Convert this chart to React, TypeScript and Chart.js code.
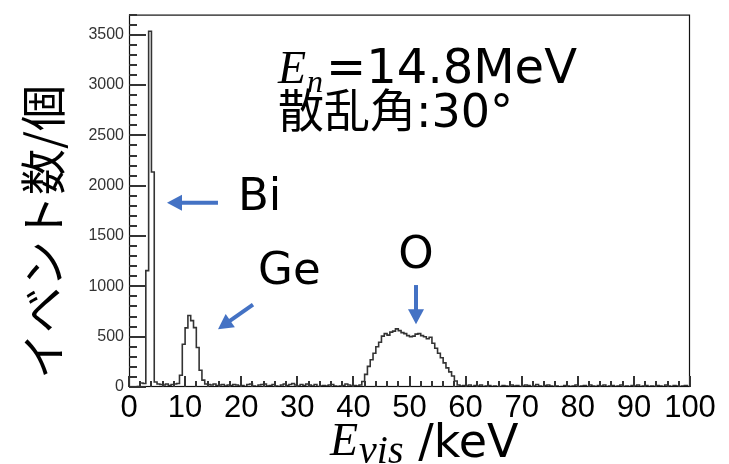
import React, { useEffect, useRef } from "react";
import { Chart, registerables } from "chart.js";

Chart.register(...registerables);

// ---------- data ----------
const BIN_WIDTH = 0.5; // keV per bin, 200 bins over 0–100 keV

// bins 0–39 (0–20 keV): Bi spike and Ge peak
const countsBiGe = [
  0, 0, 0, 5, 40, 35, 1156, 3535, 2136, 50,
  30, 25, 20, 30, 15, 25, 30, 35, 117, 425,
  587, 711, 659, 590, 392, 166, 68, 30, 25, 20,
  30, 15, 20, 25, 10, 20, 15, 25, 20, 10,
];
// bins 40–79 (20–40 keV)
const countsMid = [
  15, 5, 25, 30, 10, 5, 20, 25, 30, 10,
  15, 25, 10, 5, 20, 30, 15, 25, 35, 20,
  10, 25, 15, 30, 20, 10, 25, 5, 10, 15,
  10, 20, 25, 10, 5, 10, 15, 30, 20, 10,
];
// bins 80–119 (40–60 keV): O peak
const countsO = [
  15, 10, 20, 55, 125, 205, 270, 335, 400, 445,
  505, 530, 515, 545, 555, 578, 560, 540, 530, 510,
  500, 505, 525, 530, 510, 500, 480, 495, 435, 385,
  335, 290, 240, 190, 150, 110, 60, 20, 10, 15,
];
// bins 120–159 (60–80 keV)
const countsTailA = [
  10, 20, 5, 15, 10, 20, 5, 10, 15, 5,
  10, 0, 5, 15, 10, 5, 20, 10, 15, 5,
  10, 20, 15, 5, 10, 25, 10, 5, 15, 20,
  10, 5, 10, 0, 5, 15, 10, 5, 10, 20,
];
// bins 160–199 (80–100 keV)
const countsTailB = [
  5, 10, 15, 5, 20, 10, 5, 15, 10, 20,
  5, 10, 15, 5, 10, 20, 5, 10, 5, 15,
  10, 20, 5, 10, 15, 5, 10, 5, 15, 10,
  5, 20, 10, 5, 15, 10, 5, 10, 15, 5,
];
const counts = [...countsBiGe, ...countsMid, ...countsO, ...countsTailA, ...countsTailB];

const X_MIN = 0;
const X_MAX = 100;
const Y_MIN = 0;
const Y_MAX = 3700;
const xTickValues = [0, 10, 20, 30, 40, 50, 60, 70, 80, 90, 100];
const yTickValues = [0, 500, 1000, 1500, 2000, 2500, 3000, 3500];
const X_MINOR_STEP = 2;
const Y_MINOR_STEP = 100;

// annotation anchors in data coordinates (keV, counts)
const arrows = [
  { from: [15.86, 1831], to: [6.77, 1831] }, // Bi
  { from: [22.1, 818], to: [15.86, 574] }, // Ge
  { from: [51.16, 1013], to: [51.16, 623] }, // O
];
const peakLabels = [
  { text: "Bi", at: [19.43, 1762], align: "left" },
  { text: "Ge", at: [23.0, 1022], align: "left" },
  { text: "O", at: [51.16, 1178], align: "center" },
];
const infoAnchor1 = [26.56, 3018];
const infoAnchor2 = [26.56, 2580];
const infoLine2 = "散乱角:30°";

// ---------- styles ----------
const SANS = '"DejaVu Sans", "Noto Sans CJK JP", sans-serif';
const SERIF = '"Liberation Serif", "DejaVu Serif", serif';
const CJK = '"Noto Sans CJK JP", sans-serif';
const ARROW_COLOR = "#4472C4";
const TICK_COLOR = "#333333";

function drawRuns(ctx: CanvasRenderingContext2D, x: number, y: number, runs: any[]) {
  let cx = x;
  for (const r of runs) {
    ctx.font = r.font;
    cx += r.gap || 0;
    ctx.fillText(r.text, cx, y + (r.dy || 0));
    cx += ctx.measureText(r.text).width;
  }
}

const overlayPlugin = {
  id: "overlay",
  afterDraw(chart: any) {
    const ctx: CanvasRenderingContext2D = chart.ctx;
    const a = chart.chartArea;
    const xs = chart.scales.x;
    const ys = chart.scales.y;
    ctx.save();

    // frame
    ctx.strokeStyle = "#111";
    ctx.lineWidth = 1.2;
    ctx.strokeRect(a.left + 0.5, a.top + 0.5, a.right - a.left - 1, a.bottom - a.top - 1);

    // ticks (inward, ROOT style) drawn as filled rectangles
    ctx.fillStyle = TICK_COLOR;
    const nx = Math.round((X_MAX - X_MIN) / X_MINOR_STEP);
    for (let i = 0; i <= nx; i++) {
      const v = X_MIN + i * X_MINOR_STEP;
      const px = Math.round(xs.getPixelForValue(v));
      const len = xTickValues.indexOf(v) >= 0 ? 11 : 6;
      ctx.fillRect(px - 1, a.bottom - len, 2, len);
    }
    const ny = Math.floor((Y_MAX - Y_MIN) / Y_MINOR_STEP);
    for (let i = 0; i <= ny; i++) {
      const v = Y_MIN + i * Y_MINOR_STEP;
      const py = Math.round(ys.getPixelForValue(v));
      const len = yTickValues.indexOf(v) >= 0 ? 17 : 8;
      ctx.fillRect(a.left, py - 1, len, 2);
    }

    // arrows
    ctx.strokeStyle = ARROW_COLOR;
    ctx.fillStyle = ARROW_COLOR;
    ctx.lineWidth = 4;
    for (const ar of arrows) {
      const x1 = xs.getPixelForValue(ar.from[0]);
      const y1 = ys.getPixelForValue(ar.from[1]);
      const x2 = xs.getPixelForValue(ar.to[0]);
      const y2 = ys.getPixelForValue(ar.to[1]);
      const ang = Math.atan2(y2 - y1, x2 - x1);
      const head = 15;
      const half = 8;
      const bx = x2 - head * Math.cos(ang);
      const by = y2 - head * Math.sin(ang);
      ctx.beginPath();
      ctx.moveTo(x1, y1);
      ctx.lineTo(bx + Math.cos(ang), by + Math.sin(ang));
      ctx.stroke();
      ctx.beginPath();
      ctx.moveTo(x2, y2);
      ctx.lineTo(bx + half * Math.sin(ang), by - half * Math.cos(ang));
      ctx.lineTo(bx - half * Math.sin(ang), by + half * Math.cos(ang));
      ctx.closePath();
      ctx.fill();
    }

    // texts
    ctx.fillStyle = "#000";
    ctx.textBaseline = "alphabetic";
    for (const lb of peakLabels) {
      ctx.font = `45px ${SANS}`;
      ctx.textAlign = lb.align as CanvasTextAlign;
      ctx.fillText(lb.text, xs.getPixelForValue(lb.at[0]), ys.getPixelForValue(lb.at[1]));
    }
    ctx.textAlign = "left";
    drawRuns(ctx, xs.getPixelForValue(infoAnchor1[0]), ys.getPixelForValue(infoAnchor1[1]), [
      { text: "E", font: `italic 46px ${SERIF}` },
      { text: "n", font: `italic 32px ${SERIF}`, dy: 9, gap: 1 },
      { text: "=14.8MeV", font: `48px ${SANS}`, gap: 3 },
    ]);
    ctx.font = `46px ${SANS}`;
    ctx.fillText(infoLine2, xs.getPixelForValue(infoAnchor2[0]), ys.getPixelForValue(infoAnchor2[1]));

    // x-axis title
    drawRuns(ctx, 330, 455, [
      { text: "E", font: `italic 46px ${SERIF}` },
      { text: "vis", font: `italic 40px ${SERIF}`, dy: 8, gap: 1 },
      { text: " /keV", font: `46px ${SANS}`, dy: 2 },
    ]);

    // y-axis title
    ctx.save();
    ctx.translate(43, 232);
    ctx.rotate(-Math.PI / 2);
    ctx.textAlign = "center";
    ctx.textBaseline = "middle";
    ctx.font = `46px ${CJK}`;
    ctx.fillText("イベント数/個", 0, 0);
    ctx.restore();

    ctx.restore();
  },
};

export default function App() {
  const canvasRef = useRef<HTMLCanvasElement | null>(null);

  useEffect(() => {
    const canvas = canvasRef.current;
    if (!canvas) return;
    const points = counts.map((c, i) => ({ x: X_MIN + i * BIN_WIDTH, y: c }));
    points.push({ x: X_MAX, y: counts[counts.length - 1] });

    const chart = new Chart(canvas, {
      type: "line",
      data: {
        datasets: [
          {
            data: points,
            stepped: "before",
            borderColor: "#333",
            borderWidth: 1.6,
            pointRadius: 0,
            fill: false,
          },
        ],
      },
      options: {
        animation: false,
        responsive: false,
        maintainAspectRatio: false,
        events: [],
        layout: { padding: { top: 7, right: 39, left: 0, bottom: 0 } },
        plugins: { legend: { display: false }, tooltip: { enabled: false } },
        scales: {
          x: {
            type: "linear",
            min: X_MIN,
            max: X_MAX,
            afterBuildTicks: (s: any) => {
              s.ticks = xTickValues.map((v) => ({ value: v }));
            },
            afterFit: (s: any) => {
              s.height = 77;
            },
            grid: { display: false, drawTicks: false },
            border: { display: false },
            ticks: {
              autoSkip: false,
              maxRotation: 0,
              padding: 3,
              color: "#000",
              callback: (v: any) => String(v),
              font: { family: '"Liberation Sans", Arial, sans-serif', size: 31 },
            },
          },
          y: {
            type: "linear",
            min: Y_MIN,
            max: Y_MAX,
            afterBuildTicks: (s: any) => {
              s.ticks = yTickValues.map((v) => ({ value: v }));
            },
            afterFit: (s: any) => {
              s.width = 129;
            },
            grid: { display: false, drawTicks: false },
            border: { display: false },
            ticks: {
              autoSkip: false,
              padding: 5,
              color: "#333",
              callback: (v: any) => String(v),
              font: { family: '"Liberation Sans", Arial, sans-serif', size: 16 },
            },
          },
        },
      },
      plugins: [overlayPlugin],
    } as any);

    return () => chart.destroy();
  }, []);

  return (
    <div style={{ position: "absolute", left: 0, top: 0, width: 729, height: 464, background: "#fff" }}>
      <canvas ref={canvasRef} width={729} height={464} style={{ display: "block" }} />
    </div>
  );
}
